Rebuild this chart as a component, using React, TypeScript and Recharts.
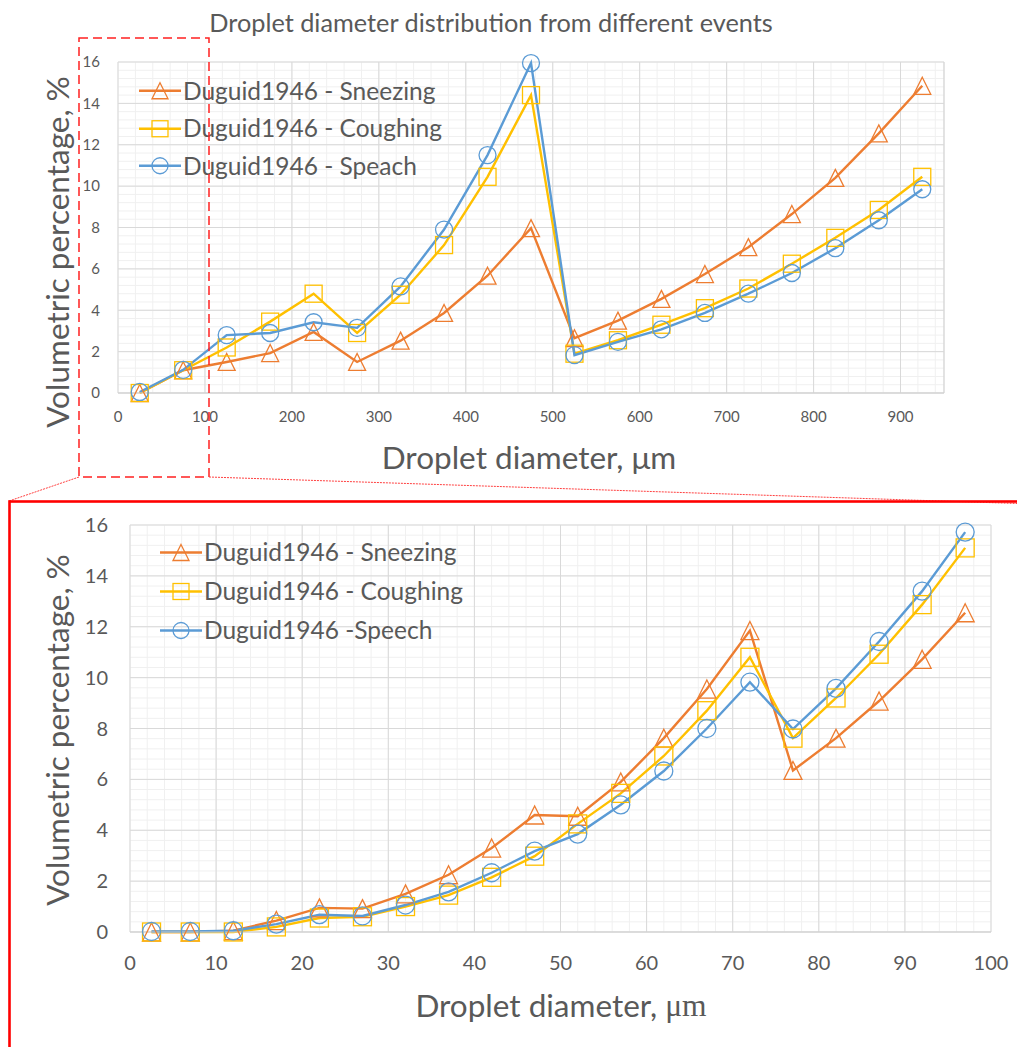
import React from 'react';
import { LineChart, Line, XAxis, YAxis, CartesianGrid, Legend, ReferenceLine, Label } from 'recharts';

// ---------------- data ----------------
const chartTitle = 'Droplet diameter distribution from different events';
const yAxisTitle = 'Volumetric percentage, %';
const xAxisTitleMain = 'Droplet diameter, ';
const xAxisTitleUnit = 'μm';

const topSeriesNames = ['Duguid1946 - Sneezing', 'Duguid1946 - Coughing', 'Duguid1946 - Speach'];
const bottomSeriesNames = ['Duguid1946 - Sneezing', 'Duguid1946 - Coughing', 'Duguid1946 -Speech'];

const topDiameters = [25, 75, 125, 175, 225, 275, 325, 375, 425, 475, 525, 575, 625, 675, 725, 775, 825, 875, 925];
const topSneezing = [0, 1.1, 1.5, 1.93, 2.95, 1.5, 2.53, 3.87, 5.67, 7.97, 2.65, 3.5, 4.55, 5.75, 7.05, 8.65, 10.4, 12.55, 14.85];
const topCoughing = [0, 1.1, 2.2, 3.45, 4.8, 2.9, 4.75, 7.15, 10.45, 14.4, 1.9, 2.55, 3.3, 4.1, 5.05, 6.25, 7.5, 8.85, 10.45];
const topSpeech = [0.05, 1.12, 2.8, 2.9, 3.42, 3.15, 5.15, 7.9, 11.5, 15.95, 1.83, 2.47, 3.08, 3.87, 4.8, 5.8, 7.0, 8.35, 9.85];

const bottomDiameters = [2.5, 7, 12, 17, 22, 27, 32, 37, 42, 47, 52, 57, 62, 67, 72, 77, 82, 87, 92, 97];
const bottomSneezing = [0, 0, 0.05, 0.45, 0.95, 0.92, 1.5, 2.25, 3.3, 4.6, 4.55, 5.9, 7.62, 9.55, 11.85, 6.35, 7.62, 9.08, 10.72, 12.55];
const bottomCoughing = [0, 0, 0, 0.2, 0.55, 0.6, 1.0, 1.45, 2.15, 2.98, 4.25, 5.45, 6.92, 8.7, 10.8, 7.62, 9.2, 10.92, 12.87, 15.1];
const bottomSpeech = [0.02, 0.02, 0.05, 0.31, 0.68, 0.63, 1.06, 1.58, 2.33, 3.18, 3.85, 5.0, 6.33, 8.0, 9.82, 7.98, 9.58, 11.42, 13.4, 15.72];

const topXTicks = [0, 100, 200, 300, 400, 500, 600, 700, 800, 900];
const bottomXTicks = [0, 10, 20, 30, 40, 50, 60, 70, 80, 90, 100];
const yTicks = [0, 2, 4, 6, 8, 10, 12, 14, 16];

const steps = (max: number, step: number) => {
  const out: number[] = [];
  for (let i = 0; i * step <= max + 1e-9; i++) out.push(Math.round(i * step * 1000) / 1000);
  return out;
};
const topXMinor = steps(940, 20);
const bottomXMinor = steps(100, 2);
const yMinor = steps(16, 0.4);

const topData = topDiameters.map((d, i) => ({ d, sneezing: topSneezing[i], coughing: topCoughing[i], speech: topSpeech[i] }));
const bottomData = bottomDiameters.map((d, i) => ({ d, sneezing: bottomSneezing[i], coughing: bottomCoughing[i], speech: bottomSpeech[i] }));

// ---------------- style ----------------
const FONT = 'Lato, "Open Sans", sans-serif';
const TEXT = '#595959';
const ORANGE = '#ED7D31';
const YELLOW = '#FFC000';
const BLUE = '#5B9BD5';
const MAJOR = '#d9d9d9';
const MINOR = '#f0f0f0';
const LINE_W = 2.4;

type Shape = 'triangle' | 'square' | 'circle';

const markerEl = (shape: Shape, cx: number, cy: number, s: number, color: string, key?: any) => {
  const h = s / 2;
  if (shape === 'triangle')
    return <path key={key} d={`M${cx},${cy - h}L${cx + h},${cy + h}L${cx - h},${cy + h}Z`} fill="none" stroke={color} strokeWidth={1.3} />;
  if (shape === 'square')
    return <rect key={key} x={cx - h} y={cy - h} width={s} height={s} fill="none" stroke={color} strokeWidth={1.3} />;
  return <circle key={key} cx={cx} cy={cy} r={h} fill="none" stroke={color} strokeWidth={1.3} />;
};

const makeDot = (shape: Shape, color: string, s: number) => (props: any) => {
  const { cx, cy, index } = props;
  if (cx == null || cy == null) return <g key={`e${index}`} />;
  return markerEl(shape, cx, cy, s, color, `${shape}-${index}`);
};

const seriesDefs: { key: string; shape: Shape; color: string }[] = [
  { key: 'sneezing', shape: 'triangle', color: ORANGE },
  { key: 'coughing', shape: 'square', color: YELLOW },
  { key: 'speech', shape: 'circle', color: BLUE },
];

const makeLegend = (names: string[], fontSize: number, rowH: number, lineLen: number, s: number) => () => (
  <div style={{ fontFamily: FONT, fontSize, color: TEXT, lineHeight: 1 }}>
    {seriesDefs.map((sd, i) => (
      <div key={sd.key} style={{ display: 'flex', alignItems: 'center', height: rowH, whiteSpace: 'nowrap' }}>
        <svg width={lineLen} height={rowH} style={{ display: 'block' }}>
          <line x1={0} x2={lineLen} y1={rowH / 2} y2={rowH / 2} stroke={sd.color} strokeWidth={LINE_W} />
          {markerEl(sd.shape, lineLen / 2, rowH / 2, s, sd.color)}
        </svg>
        <span style={{ marginLeft: 2 }}>{names[i]}</span>
      </div>
    ))}
  </div>
);

const yTitle = (cx: number, cy: number) => () => (
  <text x={cx} y={cy} transform={`rotate(-90, ${cx}, ${cy})`} textAnchor="middle" dominantBaseline="central"
    fontFamily={FONT} fontSize={31.5} fill={TEXT}>{yAxisTitle}</text>
);

const xTitle = (cx: number, cy: number, serifUnit: boolean) => () => (
  <text x={cx} y={cy} textAnchor="middle" dominantBaseline="central" fontFamily={FONT} fontSize={31.5} fill={TEXT}>
    {xAxisTitleMain}
    <tspan fontFamily={serifUnit ? '"Liberation Serif", "DejaVu Serif", serif' : FONT}>{xAxisTitleUnit}</tspan>
  </text>
);

const renderLines = (s: number) =>
  seriesDefs.map((sd) => (
    <Line key={sd.key} type="linear" dataKey={sd.key} stroke={sd.color} strokeWidth={LINE_W}
      dot={makeDot(sd.shape, sd.color, s)} activeDot={false} isAnimationActive={false} legendType="none" />
  ));

const TopChart = () => (
  <LineChart width={1017} height={480} data={topData} margin={{ top: 62, right: 73, bottom: 57, left: 0 }}>
    <CartesianGrid horizontalValues={yMinor} verticalValues={topXMinor} stroke={MINOR} strokeWidth={1} />
    <CartesianGrid stroke={MAJOR} strokeWidth={1} />
    <ReferenceLine x={950} stroke={MAJOR} strokeWidth={1} />
    <XAxis type="number" dataKey="d" domain={[0, 950]} ticks={topXTicks} interval={0} height={30}
      tickLine={false} axisLine={{ stroke: '#cfcfcf' }} tickSize={0} tickMargin={18}
      tick={{ fill: TEXT, fontSize: 15, fontFamily: FONT }}>
      <Label content={xTitle(529, 457, false)} />
    </XAxis>
    <YAxis type="number" domain={[0, 16]} ticks={yTicks} interval={0} width={118}
      tickLine={false} axisLine={false} tickSize={0} tickMargin={18}
      tick={{ fill: TEXT, fontSize: 15, fontFamily: FONT }}>
      <Label content={yTitle(57, 252)} />
    </YAxis>
    <Legend layout="vertical" align="center" verticalAlign="middle"
      wrapperStyle={{ left: 139, top: 72, width: 330 }}
      content={makeLegend(topSeriesNames, 24.5, 37.5, 42, 16)} />
    {renderLines(17)}
  </LineChart>
);

const BottomChart = () => (
  <LineChart width={1017} height={567} data={bottomData} margin={{ top: 45, right: 26, bottom: 75, left: 0 }}>
    <CartesianGrid horizontalValues={yMinor} verticalValues={bottomXMinor} stroke={MINOR} strokeWidth={1} />
    <CartesianGrid stroke={MAJOR} strokeWidth={1} />
    <XAxis type="number" dataKey="d" domain={[0, 100]} ticks={bottomXTicks} interval={0} height={40}
      tickLine={false} axisLine={{ stroke: '#cfcfcf' }} tickSize={0} tickMargin={24}
      tick={{ fill: TEXT, fontSize: 20, fontFamily: FONT }}>
      <Label content={xTitle(561, 1005 - 480, true)} />
    </XAxis>
    <YAxis type="number" domain={[0, 16]} ticks={yTicks} interval={0} width={130}
      tickLine={false} axisLine={false} tickSize={0} tickMargin={22}
      tick={{ fill: TEXT, fontSize: 20, fontFamily: FONT }}>
      <Label content={yTitle(57, 730 - 480)} />
    </YAxis>
    <Legend layout="vertical" align="center" verticalAlign="middle"
      wrapperStyle={{ left: 160, top: 53, width: 340 }}
      content={makeLegend(bottomSeriesNames, 24.5, 39, 42, 16)} />
    {renderLines(18)}
  </LineChart>
);

export default function App() {
  return (
    <div style={{ position: 'absolute', left: 0, top: 0, width: 1017, height: 1047, overflow: 'hidden', background: '#fff' }}>
      <div style={{ position: 'absolute', left: 0, top: 0 }}>
        <TopChart />
      </div>
      <div style={{ position: 'absolute', left: 0, top: 480 }}>
        <BottomChart />
      </div>
      <svg width={1017} height={1047} style={{ position: 'absolute', left: 0, top: 0, pointerEvents: 'none' }}>
        <text x={491} y={22} textAnchor="middle" dominantBaseline="central" fontFamily={FONT} fontSize={25.3} fill={TEXT}>
          {chartTitle}
        </text>
        <rect x={79} y={38} width={130} height={439} fill="none" stroke="#ff2020" strokeWidth={1.5} strokeDasharray="9 5" />
        <line x1={79} y1={477} x2={9} y2={501} stroke="#ff4040" strokeWidth={1} strokeDasharray="2 1" />
        <line x1={209} y1={477} x2={1017} y2={503.5} stroke="#ff4040" strokeWidth={1} strokeDasharray="2 1" />
        <rect x={9.5} y={501.5} width={1100} height={700} fill="none" stroke="#ff0000" strokeWidth={2.6} />
      </svg>
    </div>
  );
}
